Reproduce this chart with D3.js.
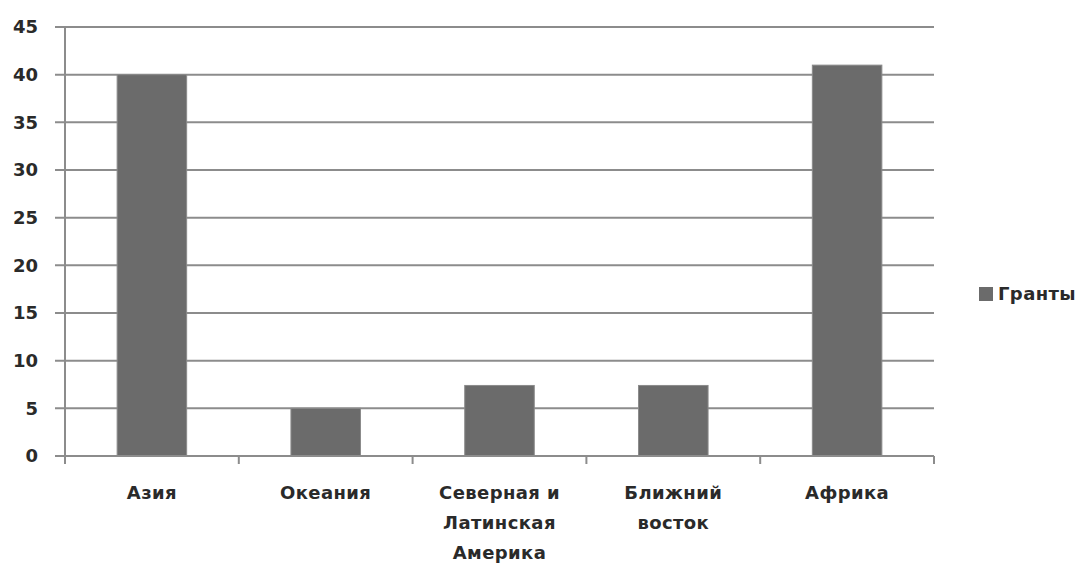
<!DOCTYPE html>
<html>
<head>
<meta charset="utf-8">
<script src="https://cdn.jsdelivr.net/npm/d3@7"></script>
<style>
body { margin: 0; background: #fff; }
text { font-family: "DejaVu Sans", sans-serif; font-weight: bold; fill: #2a2a2a; }
</style>
</head>
<body>
<svg width="1087" height="567"></svg>
<script>
var categories = ["Азия", "Океания", "Северная и|Латинская|Америка", "Ближний|восток", "Африка"];
var values = [40, 5, 7.4, 7.4, 41];
var yTicks = [0, 5, 10, 15, 20, 25, 30, 35, 40, 45];
var seriesName = "Гранты";

function chart(){
  var svg = d3.select("svg");
  var m = {left: 65, right: 934, top: 27, bottom: 456};

  var x = d3.scaleBand().domain(categories).range([m.left, m.right]).paddingInner(0.6).paddingOuter(0.3);
  var y = d3.scaleLinear().domain([0, 45]).range([m.bottom, m.top]);
  var step = (m.right - m.left) / categories.length;

  // gridlines
  svg.append("g").selectAll("line").data(yTicks)
    .enter().append("line")
    .attr("x1", m.left - 10).attr("x2", m.right)
    .attr("y1", function(d){ return y(d); }).attr("y2", function(d){ return y(d); })
    .attr("stroke", "#8c8c8c").attr("stroke-width", 2);

  // y tick labels
  svg.append("g").selectAll("text").data(yTicks)
    .enter().append("text")
    .attr("x", 38).attr("y", function(d){ return y(d); })
    .attr("dy", "0.36em").attr("text-anchor", "end")
    .style("font-size", "18px")
    .text(function(d){ return d; });

  // bars
  svg.append("g").selectAll("rect").data(values)
    .enter().append("rect")
    .attr("x", function(d, i){ return x(categories[i]); })
    .attr("width", x.bandwidth())
    .attr("y", function(d){ return y(d); })
    .attr("height", function(d){ return y(0) - y(d); })
    .attr("fill", "#6b6b6b").attr("stroke", "#8a8a8a").attr("stroke-width", 1);

  // y axis line
  svg.append("line").attr("x1", m.left).attr("x2", m.left).attr("y1", m.top).attr("y2", m.bottom + 8)
    .attr("stroke", "#8c8c8c").attr("stroke-width", 2);

  // x axis line and ticks
  svg.append("line").attr("x1", m.left).attr("x2", m.right).attr("y1", m.bottom).attr("y2", m.bottom)
    .attr("stroke", "#8c8c8c").attr("stroke-width", 2);
  svg.append("g").selectAll("line").data(d3.range(categories.length + 1))
    .enter().append("line")
    .attr("x1", function(i){ return m.left + i * step; }).attr("x2", function(i){ return m.left + i * step; })
    .attr("y1", m.bottom).attr("y2", m.bottom + 8)
    .attr("stroke", "#8c8c8c").attr("stroke-width", 2);

  // category labels
  svg.append("g").selectAll("text").data(categories)
    .enter().append("text")
    .attr("y", 499)
    .attr("text-anchor", "middle")
    .style("font-size", "18px").style("letter-spacing", "0.4px")
    .each(function(d){
      var t = d3.select(this);
      d.split("|").forEach(function(line, j){
        t.append("tspan").attr("x", x(d) + x.bandwidth() / 2).attr("dy", j ? 30 : 0).text(line);
      });
    });

  // legend
  svg.append("rect").attr("x", 979).attr("y", 287).attr("width", 14).attr("height", 14).attr("fill", "#6b6b6b");
  svg.append("text").attr("x", 998).attr("y", 294).attr("dy", "0.36em")
    .style("font-size", "18px").style("letter-spacing", "0.4px").text(seriesName);
}
chart();
</script>
</body>
</html>
